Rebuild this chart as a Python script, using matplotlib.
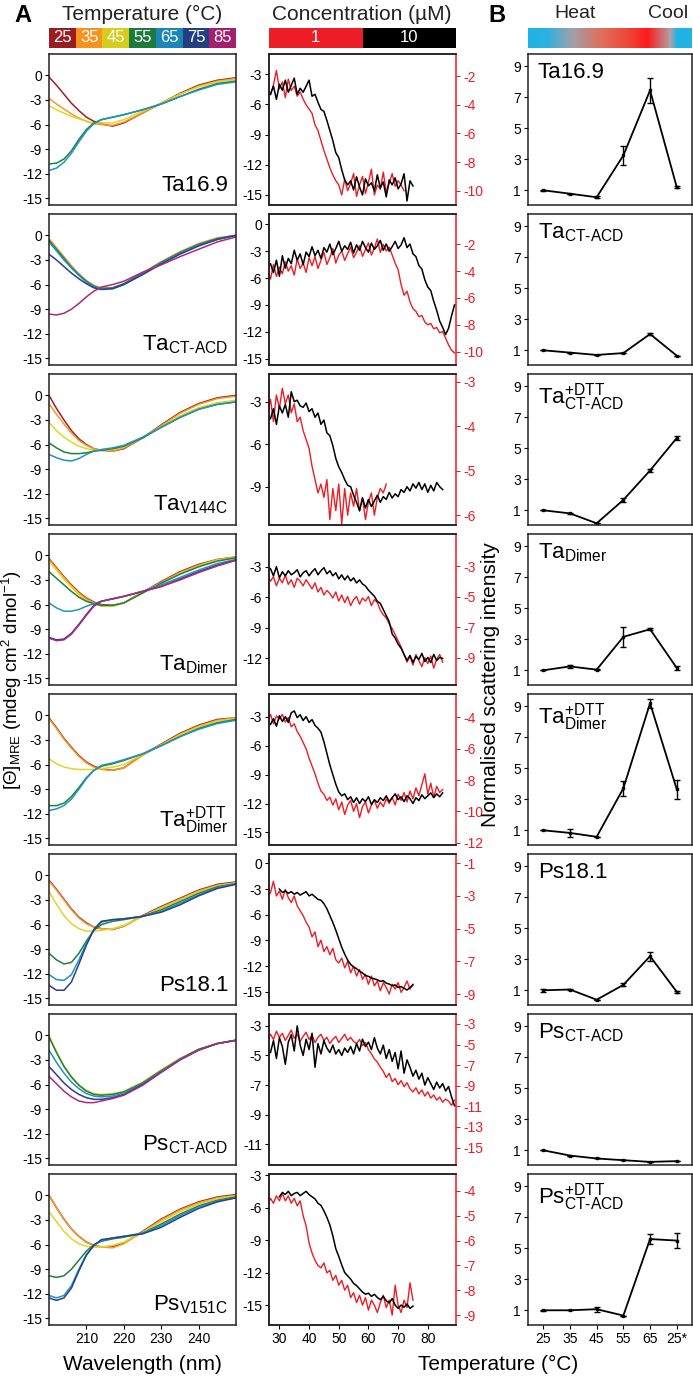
import numpy as np
import matplotlib
matplotlib.use("Agg")
import matplotlib.pyplot as plt
from matplotlib.colors import LinearSegmentedColormap

plt.rcParams['font.family'] = ['Liberation Sans', 'DejaVu Sans']
plt.rcParams['mathtext.fontset'] = 'custom'
plt.rcParams['mathtext.rm'] = 'Liberation Sans'
plt.rcParams['mathtext.it'] = 'Liberation Sans'
plt.rcParams['mathtext.default'] = 'regular'

# ===== data: CD spectra (column A, left) =====
wavelengths = [200, 202, 204, 206, 208, 210, 212, 214, 217, 220, 225, 230, 235, 240, 245, 250]
temp_labels = ["25", "35", "45", "55", "65", "75", "85"]
temp_colors = ["#9b1c20", "#f7931e", "#d6cc1e", "#1d7a3d", "#1b86b8", "#233f82", "#a3206f"]
line_colors = {"25": "#a01e22", "35": "#f39a2a", "45": "#e2d624", "55": "#208040",
               "65": "#1e95c0", "75": "#2a3f8f", "85": "#b0287a"}

cd_ta169 = {
    "25": [-0.2, -1.2, -2.3, -3.4, -4.3, -5.1, -5.6, -5.9, -6.2, -5.8, -4.6, -3.4, -2.2, -1.2, -0.6, -0.3],
    "35": [-2.8, -3.5, -4.1, -4.7, -5.2, -5.6, -5.9, -6.0, -6.1, -5.7, -4.6, -3.4, -2.3, -1.3, -0.7, -0.4],
    "45": [-3.7, -4.2, -4.6, -5.0, -5.3, -5.6, -5.8, -5.8, -5.8, -5.4, -4.4, -3.4, -2.3, -1.4, -0.8, -0.5],
    "55": [-10.8, -10.7, -10.2, -9.2, -7.8, -6.6, -5.8, -5.4, -5.1, -4.8, -4.2, -3.5, -2.6, -1.7, -1.0, -0.7],
    "65": [-11.6, -11.3, -10.6, -9.5, -8.1, -6.8, -5.9, -5.4, -5.1, -4.8, -4.2, -3.5, -2.6, -1.8, -1.1, -0.8],
}
cd_ta_ctacd = {
    "35": [-0.4, -1.5, -2.6, -3.7, -4.7, -5.5, -6.1, -6.4, -6.4, -5.9, -4.6, -3.2, -2.0, -1.0, -0.3, 0.0],
    "55": [-0.6, -1.7, -2.8, -3.9, -4.8, -5.6, -6.2, -6.5, -6.4, -5.9, -4.6, -3.3, -2.1, -1.1, -0.4, 0.0],
    "65": [-0.8, -1.9, -3.0, -4.0, -4.9, -5.7, -6.3, -6.5, -6.5, -6.0, -4.7, -3.4, -2.2, -1.2, -0.5, 0.0],
    "75": [-2.3, -3.0, -3.8, -4.6, -5.3, -5.9, -6.4, -6.6, -6.5, -6.0, -4.8, -3.5, -2.3, -1.3, -0.5, 0.0],
    "85": [-9.6, -9.7, -9.5, -9.0, -8.3, -7.5, -6.8, -6.3, -6.0, -5.6, -4.5, -3.6, -2.6, -1.7, -0.8, -0.2],
}
cd_ta_v144c = {
    "25": [0.0, -1.6, -3.0, -4.3, -5.3, -6.0, -6.5, -6.7, -6.8, -6.5, -5.2, -3.6, -2.1, -1.0, -0.3, 0.0],
    "35": [-1.0, -2.3, -3.5, -4.6, -5.5, -6.1, -6.5, -6.7, -6.8, -6.4, -5.2, -3.7, -2.2, -1.1, -0.4, -0.1],
    "45": [-3.3, -4.3, -5.1, -5.7, -6.2, -6.5, -6.7, -6.7, -6.6, -6.3, -5.2, -3.8, -2.5, -1.5, -0.9, -0.6],
    "55": [-5.8, -6.4, -6.9, -7.1, -7.1, -7.0, -6.8, -6.7, -6.5, -6.2, -5.2, -3.9, -2.7, -1.7, -1.1, -0.8],
    "65": [-7.2, -7.6, -7.9, -8.0, -7.7, -7.2, -6.8, -6.6, -6.4, -6.1, -5.1, -3.9, -2.7, -1.7, -1.1, -0.8],
}
cd_ta_dimer = {
    "25": [-0.4, -1.5, -2.6, -3.6, -4.5, -5.2, -5.7, -6.0, -6.1, -5.8, -4.5, -3.2, -2.0, -1.1, -0.5, -0.2],
    "35": [-0.5, -1.6, -2.7, -3.7, -4.6, -5.3, -5.8, -6.1, -6.2, -5.8, -4.5, -3.3, -2.1, -1.2, -0.5, -0.2],
    "45": [-0.7, -1.8, -2.9, -3.9, -4.8, -5.5, -5.9, -6.2, -6.2, -5.8, -4.6, -3.4, -2.2, -1.3, -0.6, -0.3],
    "55": [-2.0, -2.8, -3.6, -4.4, -5.1, -5.6, -5.9, -6.1, -6.1, -5.8, -4.6, -3.4, -2.3, -1.4, -0.7, -0.3],
    "65": [-5.8, -6.4, -6.8, -6.8, -6.6, -6.2, -5.9, -5.6, -5.3, -5.0, -4.4, -3.6, -2.7, -1.8, -1.0, -0.5],
    "75": [-10.0, -10.3, -10.2, -9.5, -8.4, -7.2, -6.1, -5.6, -5.3, -5.0, -4.4, -3.8, -2.9, -2.0, -1.2, -0.6],
    "85": [-10.1, -10.4, -10.3, -9.6, -8.5, -7.3, -6.2, -5.6, -5.3, -5.0, -4.4, -3.8, -3.0, -2.1, -1.3, -0.6],
}
cd_ta_dimer_dtt = {
    "25": [-0.3, -1.5, -2.8, -3.9, -4.9, -5.7, -6.2, -6.5, -6.7, -6.4, -4.8, -3.5, -2.2, -1.2, -0.5, -0.3],
    "35": [-0.4, -1.6, -2.9, -4.0, -5.0, -5.8, -6.3, -6.6, -6.7, -6.4, -4.9, -3.6, -2.3, -1.3, -0.6, -0.3],
    "45": [-5.3, -5.9, -6.3, -6.5, -6.6, -6.6, -6.6, -6.5, -6.3, -6.0, -4.8, -3.6, -2.4, -1.4, -0.7, -0.4],
    "55": [-11.0, -11.0, -10.7, -9.9, -8.8, -7.6, -6.7, -6.2, -5.9, -5.5, -4.7, -3.7, -2.6, -1.6, -0.9, -0.5],
    "65": [-11.6, -11.4, -11.0, -10.2, -9.0, -7.7, -6.7, -6.1, -5.8, -5.4, -4.7, -3.7, -2.6, -1.7, -1.0, -0.6],
}
cd_ps181 = {
    "25": [-0.6, -1.7, -2.9, -4.1, -5.1, -5.8, -6.3, -6.5, -6.6, -6.2, -4.9, -3.8, -2.8, -1.8, -1.1, -0.8],
    "35": [-0.7, -1.8, -3.0, -4.2, -5.2, -5.9, -6.3, -6.5, -6.6, -6.2, -5.0, -3.9, -2.9, -1.9, -1.2, -0.9],
    "45": [-2.0, -3.5, -4.9, -5.9, -6.5, -6.8, -6.8, -6.7, -6.5, -6.1, -5.0, -4.0, -3.0, -2.0, -1.3, -0.9],
    "55": [-9.5, -10.3, -10.8, -10.6, -9.5, -8.0, -6.7, -6.0, -5.6, -5.4, -5.0, -4.2, -3.2, -2.2, -1.4, -1.0],
    "65": [-12.1, -12.7, -12.8, -12.1, -10.3, -8.3, -6.6, -5.7, -5.4, -5.3, -5.0, -4.4, -3.4, -2.4, -1.5, -1.0],
    "75": [-13.4, -14.0, -14.0, -13.0, -10.8, -8.5, -6.6, -5.6, -5.4, -5.3, -5.0, -4.5, -3.6, -2.5, -1.6, -1.1],
}
cd_ps_ctacd = {
    "45": [0.0, -2.0, -3.7, -5.0, -6.0, -6.7, -7.1, -7.2, -7.1, -6.8, -5.7, -4.2, -2.8, -1.7, -1.0, -0.6],
    "55": [-0.2, -2.1, -3.8, -5.1, -6.1, -6.8, -7.2, -7.3, -7.2, -6.9, -5.8, -4.3, -2.9, -1.7, -1.0, -0.6],
    "65": [-1.8, -3.3, -4.6, -5.7, -6.5, -7.1, -7.4, -7.5, -7.4, -7.0, -5.9, -4.4, -2.9, -1.8, -1.0, -0.6],
    "75": [-3.8, -4.8, -5.8, -6.6, -7.2, -7.6, -7.8, -7.8, -7.6, -7.2, -6.0, -4.5, -3.0, -1.8, -1.0, -0.6],
    "85": [-5.0, -5.9, -6.8, -7.5, -8.0, -8.2, -8.2, -8.0, -7.7, -7.3, -6.1, -4.5, -3.0, -1.8, -1.0, -0.6],
}
cd_ps_v151c = {
    "25": [0.0, -1.5, -2.9, -4.1, -5.0, -5.7, -6.1, -6.3, -6.3, -5.8, -4.4, -2.9, -1.7, -0.8, -0.2, 0.1],
    "35": [0.0, -1.5, -2.9, -4.1, -5.0, -5.7, -6.1, -6.3, -6.4, -5.9, -4.5, -3.0, -1.8, -0.9, -0.3, 0.0],
    "45": [-2.0, -3.2, -4.4, -5.3, -5.9, -6.2, -6.3, -6.3, -6.1, -5.7, -4.5, -3.2, -2.0, -1.1, -0.4, -0.1],
    "55": [-9.8, -10.0, -9.8, -9.0, -7.9, -6.8, -6.0, -5.6, -5.3, -5.1, -4.6, -3.5, -2.3, -1.3, -0.6, -0.2],
    "65": [-12.2, -12.5, -12.2, -11.0, -9.0, -7.2, -6.1, -5.5, -5.2, -5.0, -4.6, -3.7, -2.5, -1.4, -0.7, -0.3],
    "75": [-12.5, -12.8, -12.5, -11.3, -9.2, -7.3, -6.1, -5.4, -5.2, -5.0, -4.7, -3.9, -2.7, -1.6, -0.8, -0.3],
}
cd_sets = [cd_ta169, cd_ta_ctacd, cd_ta_v144c, cd_ta_dimer, cd_ta_dimer_dtt, cd_ps181, cd_ps_ctacd, cd_ps_v151c]
cd_names = ["Ta16.9", r"Ta$_{CT\text{-}ACD}$", r"Ta$_{V144C}$", r"Ta$_{Dimer}$", r"Ta$_{Dimer}^{+DTT}$",
            "Ps18.1", r"Ps$_{CT\text{-}ACD}$", r"Ps$_{V151C}$"]

# ===== data: thermal melts (column A, right) -- (start temp, values) =====
melt_10uM = [
    (27, [-5.0, -4.2, -5.5, -4.0, -4.6, -3.6, -4.8, -4.1, -3.4, -5.0, -4.4, -4.8, -4.2, -3.6,
          -5.2, -5.0, -5.8, -6.5, -6.7, -7.6, -8.6, -9.6, -10.8, -11.3, -12.5, -13.5, -14.0,
          -13.6, -14.5, -13.2, -14.2, -15.0, -13.4, -14.1, -13.8, -14.6, -13.0, -14.3, -13.7, -15.2,
          -13.5, -14.0, -13.3, -14.4, -13.9, -12.9, -15.6, -13.6, -14.1]),
    (27, [-4.4, -5.4, -4.0, -5.8, -3.5, -4.9, -3.8, -4.4, -2.9, -4.0, -3.3, -4.5, -3.1, -3.6,
          -2.5, -3.5, -2.9, -3.8, -2.6, -3.1, -2.2, -3.4, -2.7, -1.9, -3.0, -2.4, -2.8, -2.0, -3.2,
          -2.3, -2.9, -1.9, -2.6, -3.1, -2.1, -2.8, -2.4, -1.8, -2.9, -2.2, -3.0, -2.5, -1.9, -2.7,
          -2.3, -1.5, -2.6, -2.2,
          -3.3, -3.6, -4.6, -5.0, -6.2, -7.0, -7.4, -8.6, -9.6, -10.8, -11.5, -12.3, -11.6, -10.2, -9.0]),
    (27, [-4.2, -3.5, -4.6, -3.3, -3.8, -3.2, -4.1, -2.3,
          -3.0, -2.9, -3.3, -3.4, -3.1, -3.7, -3.5, -4.1, -3.8, -4.6, -4.3, -5.2, -5.4, -6.1, -7.0,
          -7.6, -8.0, -8.5,
          -8.9, -9.0, -9.6, -10.1, -10.7, -9.8, -10.5, -9.9, -10.4, -10.0, -9.6, -10.1,
          -9.7, -9.9, -9.4, -9.8, -9.5, -9.7, -9.2, -9.4, -9.0, -9.3, -8.8, -9.1, -8.7, -9.2, -8.8,
          -9.4, -8.9, -9.3, -8.7, -9.0, -9.2]),
    (27, [-3.2, -3.9, -3.0, -4.1, -3.5, -3.9, -3.4, -3.8, -3.6, -3.3, -4.0, -3.6, -3.4, -3.9,
          -3.5, -3.2, -3.8, -3.4, -3.1, -3.7, -3.4, -3.9, -3.6, -4.2, -3.8, -4.3, -3.9, -4.4, -4.1,
          -4.6, -4.3, -4.7,
          -4.9, -5.3, -5.6, -5.9, -6.4, -6.6, -7.2, -7.8, -8.4, -9.6, -10.0, -10.6, -11.0, -11.6,
          -12.2, -11.7, -12.4, -11.8, -12.1, -11.5, -12.3, -11.9, -12.4, -11.6, -12.2, -11.9, -12.0]),
    (27, [-3.8, -3.2, -4.0, -2.9, -3.5, -3.0, -3.6, -2.6, -2.4, -3.1, -2.8, -3.4, -3.0, -3.6,
          -3.3, -3.9, -4.2,
          -4.6, -5.6, -6.8, -8.0, -9.0, -10.0, -10.8, -11.2, -11.0, -11.6,
          -11.3, -11.9, -11.4, -12.0, -11.5, -11.8, -11.3, -12.1, -11.6, -11.9, -11.4, -11.7, -11.2,
          -11.8, -11.4, -11.0, -11.6, -11.3, -11.8, -11.2, -11.5, -12.0, -11.4, -11.7, -11.1, -11.5,
          -11.2, -10.9, -11.4, -11.0, -11.3, -10.9]),
    (30, [-3.0, -3.4, -3.2, -3.5, -3.3, -3.6, -3.4, -3.7, -3.5, -3.3, -3.8, -3.6,
          -3.9, -4.2, -4.3, -4.7, -5.3, -6.1, -6.9, -7.8, -8.8, -9.8, -10.6, -11.3, -11.8, -12.1, -12.3,
          -12.6, -12.8, -13.1, -13.2, -13.4, -13.5, -13.6, -13.8, -13.7, -14.0, -14.1, -14.3, -14.2,
          -14.5, -14.4, -14.6, -14.8, -14.5, -14.2]),
    (27, [-4.8, -4.0, -5.2, -3.8, -4.4, -5.6, -4.1, -3.6, -4.7, -3.0, -4.3, -5.0, -3.9, -4.6,
          -3.5, -5.8, -4.2, -4.9, -4.0, -4.5, -4.8,
          -4.3, -4.9, -4.6, -5.0, -4.5, -4.8, -4.4, -4.9, -4.2, -4.7, -3.9, -4.4, -4.1, -4.6, -3.8,
          -4.5, -4.9, -4.3, -5.2,
          -4.6, -5.4, -4.8, -5.9, -4.7, -6.2, -5.3, -5.8, -6.4, -6.0, -6.6, -6.2, -7.0, -6.5, -6.9,
          -7.3, -6.8, -7.2, -6.9, -7.4, -7.1, -7.8, -8.4]),
    (30, [-5.0, -4.6, -4.8, -4.5, -4.9, -4.7, -4.6, -4.9, -4.7, -4.5, -4.8, -5.0,
          -5.2, -5.6, -5.8, -6.3, -6.9, -7.6, -8.6, -9.8, -10.5, -11.3, -12.0, -12.3, -12.6, -13.0, -13.2,
          -13.5, -13.8, -14.0, -13.9, -14.2, -14.0, -14.3, -14.5, -14.2, -14.6, -14.8, -14.4, -15.0,
          -15.3, -15.0, -15.2, -14.9, -15.3, -15.1]),
]
melt_1uM = [
    (26, [-2.8, -3.3, -2.6, -1.6, -2.9, -2.4, -3.5, -2.2, -3.0, -2.7, -3.4, -3.1,
          -3.6, -4.0, -4.3, -4.6, -5.4, -5.8, -6.5, -7.2, -7.8, -8.4, -8.9, -9.3,
          -9.6, -10.3, -9.2, -10.0, -9.5, -8.8, -10.4, -9.6, -9.0, -10.2, -9.4, -8.5, -10.3, -9.6,
          -9.9, -8.7, -10.1, -9.5, -8.8, -9.7, -9.3, -9.6, -10.0]),
    (26, [-3.9, -4.6, -3.5, -4.4, -3.7, -4.2, -3.3, -4.0, -3.6, -4.3, -3.1, -3.8, -3.4, -4.1, -3.0,
          -3.6, -2.9, -3.8, -3.2, -2.6, -3.5, -3.0, -2.3, -3.4, -2.8, -2.5, -3.2, -2.7, -2.2, -3.0,
          -2.6, -2.1, -2.9, -2.4, -1.9, -2.8, -2.3, -1.6, -2.6, -2.0, -2.5, -2.2, -2.8, -3.4, -3.9,
          -5.0, -5.8, -5.5,
          -6.3, -6.8, -7.0, -7.4, -7.3, -7.8, -8.0, -7.9, -8.3, -8.2, -8.6, -8.5, -9.0, -9.5, -9.9, -10.1]),
    (26, [-3.7, -3.4, -3.9, -3.3, -3.6, -3.15, -3.5, -3.3, -3.7, -3.5, -3.9, -3.8,
          -4.1, -4.3, -4.5, -4.9, -5.2, -5.5, -5.3, -5.6, -5.2, -6.1, -5.4, -5.9,
          -5.3, -6.2, -5.4, -6.0, -5.5, -5.8, -5.4, -5.9, -5.6, -6.1, -5.7, -5.5, -6.0, -5.6, -5.4,
          -5.5, -5.3]),
    (26, [-3.6, -4.0, -3.7, -4.3, -3.8, -4.1, -3.6, -4.2, -3.9, -4.4, -3.8, -4.0, -4.3, -3.9, -4.2,
          -4.5, -4.1, -4.7, -4.4, -4.9, -4.6, -4.8, -5.1, -4.7, -5.3, -4.9, -5.4, -5.0, -5.6, -5.2,
          -5.0, -5.5, -5.1,
          -5.3, -5.0, -5.6, -5.2, -5.4, -5.9, -6.2, -6.4, -6.8, -7.1, -7.5, -7.9, -8.3, -8.8,
          -9.3, -8.9, -9.5, -8.8, -9.2, -9.6, -9.0, -9.4, -8.9, -9.7, -9.1, -8.8, -9.3]),
    (26, [-4.3, -3.8, -4.4, -3.9, -4.1, -3.8, -4.3, -4.0, -4.6, -4.4, -4.9, -5.2,
          -5.6, -6.0, -6.6, -7.1, -7.6, -8.2, -8.7, -8.9, -9.3, -9.1,
          -9.6, -9.2, -9.9, -9.4, -10.2, -9.6, -9.3, -10.0, -9.5, -10.4, -9.7, -9.4, -10.1, -9.6,
          -9.3, -9.8, -9.4, -9.7, -9.2,
          -9.5, -9.1, -9.6, -8.9, -9.3, -8.8, -9.4, -8.7, -9.2, -8.5, -9.0, -8.3, -7.6, -8.9, -8.2,
          -9.1, -8.4, -8.8, -8.6]),
    (26, [-3.1, -2.8, -2.1, -3.0, -2.7, -3.2, -2.6, -3.1, -3.4, -3.0, -3.6, -3.9,
          -4.2, -4.6, -4.9, -5.5, -5.2, -6.1, -5.7, -6.4, -6.1, -6.6, -6.2, -6.9, -7.1,
          -6.8, -7.4, -7.0, -7.7, -7.3, -7.9, -7.5, -8.1, -7.8, -8.4, -7.9, -8.5, -8.2, -8.8, -8.3,
          -8.6, -9.0, -8.4, -8.7, -8.3, -8.9, -8.6, -8.2, -8.7, -8.4]),
    (26, [-4.6, -4.0, -4.5, -3.7, -4.3, -3.9, -4.6, -4.1, -3.6, -4.4, -4.0, -4.7, -4.2, -3.8, -4.5,
          -4.1, -4.8, -4.3, -4.0, -4.6,
          -4.3, -4.9, -4.5, -4.2, -4.8, -4.4, -4.0, -4.6, -4.3, -4.7, -4.9, -4.5, -5.1, -4.8, -5.5,
          -5.9, -6.4, -6.7, -7.2, -7.6, -8.2, -7.8, -8.6, -8.3, -8.9, -8.5, -9.1, -8.7, -9.3, -9.6,
          -9.2, -9.8, -9.4, -10.0, -9.6, -10.2, -9.9, -10.4, -10.1, -10.6, -10.3, -10.5, -10.9, -10.4]),
    (26, [-4.6, -4.3, -4.5, -4.2, -4.4, -4.1, -4.4, -4.2, -4.5, -4.3, -4.6, -4.4,
          -5.0, -5.4, -6.1, -6.5, -6.8, -7.0, -7.1, -6.9, -7.3, -7.2, -7.6, -7.4, -7.8,
          -7.6, -8.0, -7.8, -8.3, -8.1, -8.5, -8.2, -8.6, -8.3, -8.8, -8.4, -8.6, -8.9, -8.5, -8.2,
          -8.7, -8.4, -9.0, -7.8, -8.6, -8.9, -8.4, -8.7, -7.7, -8.4]),
]
melt_left_ylim = [(-16, -1), (-15.7, 1.15), (-11.7, -1.05), (-14.6, 0.2), (-16.3, -0.65),
                  (-16.55, 1.1), (-12.4, -2.2), (-16.84, -2.9)]
melt_left_ticks = [[-3, -6, -9, -12, -15], [0, -3, -6, -9, -12, -15], [-3, -6, -9], [-3, -6, -9, -12],
                   [-3, -6, -9, -12, -15], [0, -3, -6, -9, -12, -15], [-3, -5, -7, -9, -11],
                   [-3, -6, -9, -12, -15]]
melt_right_ylim = [(-11, -0.45), (-11, 0.26), (-6.22, -2.83), (-10.8, -0.9), (-12.15, -2.5),
                   (-9.67, -0.43), (-16.7, -2.03), (-9.4, -3.32)]
melt_right_ticks = [[-2, -4, -6, -8, -10], [-2, -4, -6, -8, -10], [-3, -4, -5, -6], [-3, -5, -7, -9],
                    [-4, -6, -8, -10, -12], [-1, -3, -5, -7, -9], [-3, -5, -7, -9, -11, -13, -15],
                    [-4, -5, -6, -7, -8, -9]]

# ===== data: light scattering (column B) =====
scat_cats = ["25", "35", "45", "55", "65", "25*"]
scat_vals = [
    [1.0, 0.78, 0.55, 3.25, 7.45, 1.2],
    [1.0, 0.85, 0.7, 0.82, 2.05, 0.65],
    [1.0, 0.8, 0.16, 1.67, 3.57, 5.67],
    [1.0, 1.25, 1.04, 3.16, 3.65, 1.15],
    [1.0, 0.83, 0.58, 3.71, 9.2, 3.65],
    [1.0, 1.05, 0.39, 1.35, 3.2, 0.9],
    [1.0, 0.66, 0.47, 0.36, 0.25, 0.3],
    [1.0, 1.0, 1.07, 0.66, 5.6, 5.5],
]
scat_err = [
    [0.05, 0.0, 0.05, 0.6, 0.8, 0.05],
    [0.0, 0.0, 0.0, 0.0, 0.05, 0.0],
    [0.0, 0.05, 0.0, 0.12, 0.1, 0.15],
    [0.0, 0.08, 0.05, 0.63, 0.05, 0.15],
    [0.0, 0.25, 0.0, 0.5, 0.3, 0.6],
    [0.08, 0.05, 0.0, 0.1, 0.3, 0.05],
    [0.0, 0.0, 0.0, 0.0, 0.0, 0.0],
    [0.05, 0.0, 0.15, 0.0, 0.3, 0.5],
]
scat_names = ["Ta16.9", r"Ta$_{CT\text{-}ACD}$", r"Ta$_{CT\text{-}ACD}^{+DTT}$", r"Ta$_{Dimer}$",
              r"Ta$_{Dimer}^{+DTT}$", "Ps18.1", r"Ps$_{CT\text{-}ACD}$", r"Ps$_{CT\text{-}ACD}^{+DTT}$"]

# ===== figure =====
W, H = 693, 1383
fig = plt.figure(figsize=(W / 100, H / 100), dpi=100)


def px_axes(x0, y0, x1, y1):
    return fig.add_axes([x0 / W, 1 - y1 / H, (x1 - x0) / W, (y1 - y0) / H])


row_tops = [54, 214, 374, 534, 694, 854, 1014, 1174]
row_h = 151
spine_col = "#222222"
red = "#ee1c25"

for i, top in enumerate(row_tops):
    bot = top + row_h
    last = (i == len(row_tops) - 1)

    # --- CD spectra
    ax = px_axes(49, top, 236, bot)
    for t, vals in cd_sets[i].items():
        ax.plot(wavelengths, vals, color=line_colors[t], lw=1.1)
    ax.set_xlim(200, 250)
    ax.set_ylim(-15.8, 2.6)
    ax.set_yticks([0, -3, -6, -9, -12, -15])
    ax.set_yticklabels(["0", "-3", "-6", "-9", "-12", "-15"])
    ax.text(0.96, 0.06, cd_names[i], transform=ax.transAxes, ha="right", va="bottom", fontsize=16)
    if last:
        ax.set_xticks([210, 220, 230, 240])
    else:
        ax.set_xticks([])
    ax.tick_params(labelsize=10, length=3, width=0.8, pad=2)

    # --- thermal melts
    axm = px_axes(269, top, 456, bot)
    s10, v10 = melt_10uM[i]
    s1, v1 = melt_1uM[i]
    axm.plot(np.arange(s10, s10 + len(v10)), v10, color="black", lw=1.1, zorder=3)
    axm.set_xlim(26.5, 89.5)
    axm.set_ylim(*melt_left_ylim[i])
    axm.set_yticks(melt_left_ticks[i])
    axm.set_yticklabels([str(v) for v in melt_left_ticks[i]])
    axr = axm.twinx()
    axr.plot(np.arange(s1, s1 + len(v1)), v1, color=red, lw=1.0)
    axr.set_ylim(*melt_right_ylim[i])
    axr.set_yticks(melt_right_ticks[i])
    axr.set_yticklabels([str(v) for v in melt_right_ticks[i]])
    axr.tick_params(axis="y", colors=red, labelsize=10, length=3, width=0.8, pad=2)
    axm.set_zorder(axr.get_zorder() + 1)
    axm.patch.set_visible(False)
    if last:
        axm.set_xticks([30, 40, 50, 60, 70, 80])
    else:
        axm.set_xticks([])
    axm.tick_params(labelsize=10, length=3, width=0.8, pad=2)

    # --- scattering
    axs = px_axes(528, top, 692, bot)
    xs = np.arange(len(scat_cats))
    axs.errorbar(xs, scat_vals[i], yerr=scat_err[i], color="black", lw=1.3, elinewidth=1.0,
                 capsize=2, marker="s", ms=2)
    axs.set_xlim(-0.57, 5.57)
    axs.set_ylim(0.05, 9.8)
    axs.set_yticks([1, 3, 5, 7, 9])
    axs.text(0.06, 0.95, scat_names[i], transform=axs.transAxes, ha="left", va="top", fontsize=16)
    if last:
        axs.set_xticks(xs)
        axs.set_xticklabels(scat_cats)
    else:
        axs.set_xticks([])
    axs.tick_params(labelsize=10, length=3, width=0.8, pad=2)

    for a in (ax, axm, axr, axs):
        for sp in a.spines.values():
            sp.set_color(spine_col)
            sp.set_linewidth(1.1)
    axr.spines["right"].set_color(red)
    axm.spines["right"].set_visible(False)

# ===== header legends =====
fig.text(23 / W, 1 - 15 / H, "A", fontsize=17, fontweight="bold", ha="center", va="center")
fig.text(497 / W, 1 - 15 / H, "B", fontsize=17, fontweight="bold", ha="center", va="center")
fig.text(142 / W, 1 - 14 / H, "Temperature (°C)", fontsize=15, ha="center", va="center", color="#222222")
fig.text(362 / W, 1 - 14 / H, "Concentration (µM)", fontsize=15, ha="center", va="center", color="#222222")
fig.text(575 / W, 1 - 14 / H, "Heat", fontsize=14, ha="center", va="center", color="#222222")
fig.text(668 / W, 1 - 14 / H, "Cool", fontsize=14, ha="center", va="center", color="#222222")

axt = px_axes(49, 28, 236, 48)
axt.bar(np.arange(len(temp_labels)), 1, width=1.0, color=temp_colors)
for k, lab in enumerate(temp_labels):
    axt.text(k, 0.5, lab, ha="center", va="center", color="white", fontsize=12)
axt.set_xlim(-0.5, len(temp_labels) - 0.5)
axt.set_ylim(0, 1)
axt.axis("off")

conc_labels = ["1", "10"]
axc = px_axes(269, 28, 456, 48)
axc.bar([0, 1], 1, width=1.0, color=[red, "black"])
for k, lab in enumerate(conc_labels):
    axc.text(k, 0.5, lab, ha="center", va="center", color="white", fontsize=12)
axc.set_xlim(-0.5, 1.5)
axc.set_ylim(0, 1)
axc.axis("off")

heat_cmap = LinearSegmentedColormap.from_list(
    "heatcool",
    [(0.0, "#1fb4e6"), (0.11, "#2ab2e2"), (0.27, "#a0a0aa"), (0.44, "#e0705c"),
     (0.6, "#ec4a3c"), (0.73, "#ff1a1a"), (0.87, "#b0a0a4"), (0.91, "#1fb4e6"), (1.0, "#1fb4e6")])
axh = px_axes(528, 28, 692, 48)
axh.imshow(np.linspace(0, 1, 256)[None, :], aspect="auto", cmap=heat_cmap, extent=(0, 1, 0, 1))
axh.axis("off")

# ===== axis titles =====
fig.text(12 / W, 1 - 680 / H, r"[$\Theta$]$_{MRE}$ (mdeg cm$^2$ dmol$^{-1}$)", rotation=90,
         fontsize=13.5, ha="center", va="center")
fig.text(491 / W, 1 - 685 / H, "Normalised scattering intensity", rotation=90,
         fontsize=15, ha="center", va="center")
fig.text(142 / W, 1 - 1364 / H, "Wavelength (nm)", fontsize=15, ha="center", va="center")
fig.text(498 / W, 1 - 1364 / H, "Temperature (°C)", fontsize=15, ha="center", va="center")

fig.savefig("out.png", dpi=100)
